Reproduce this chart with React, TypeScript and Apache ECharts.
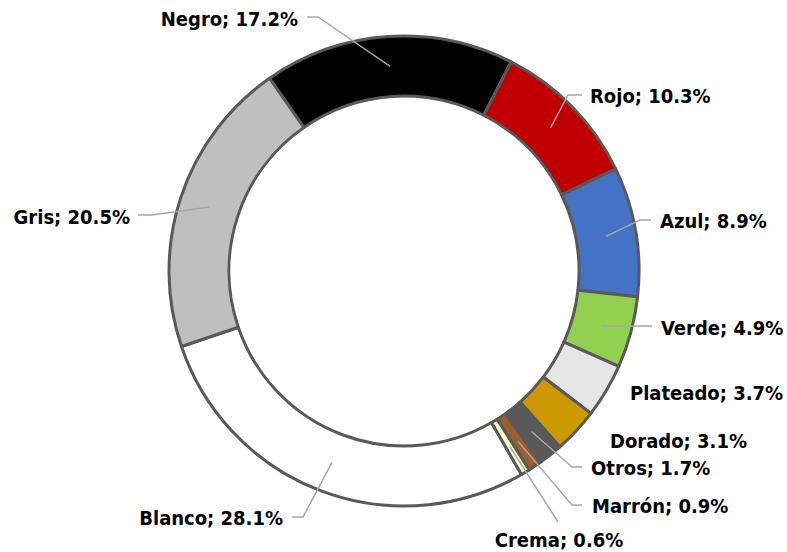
import React, { useEffect, useRef } from "react";
import * as echarts from "echarts";

// ---- data ----
const categories = ["Blanco", "Gris", "Negro", "Rojo", "Azul", "Verde", "Plateado", "Dorado", "Otros", "Marrón", "Crema"];
const values = [28.1, 20.5, 17.2, 10.3, 8.9, 4.9, 3.7, 3.1, 1.7, 0.9, 0.6];
const colors = ["#FFFFFF", "#BFBFBF", "#000000", "#C00000", "#4472C4", "#92D050", "#E7E6E6", "#CC9900", "#595959", "#9A5F2C", "#FFFFCC"];

// ---- layout (positions of labels, not data) ----
const CX = 404;
const CY = 271;
const R_IN = 175;
const R_OUT = 235;
const R_MID = 205;
const START_CW = 150; // degrees clockwise from 12 o'clock

type LabelPos = { x: number; y: number; align: "left" | "right" | "center"; line: number[][] | null };
const labelPos: LabelPos[] = [
  { x: 283, y: 518, align: "right", line: [[303, 517], [292, 517]] }, // Blanco
  { x: 130, y: 217, align: "right", line: [[152, 215], [138, 215]] }, // Gris
  { x: 298, y: 19, align: "right", line: [[318, 17], [307, 17]] }, // Negro
  { x: 590, y: 96, align: "left", line: [[568, 95], [582, 95]] }, // Rojo
  { x: 660, y: 221, align: "left", line: [[640, 220], [651, 220]] }, // Azul
  { x: 661, y: 328, align: "left", line: [[603, 326], [652, 326]] }, // Verde
  { x: 630, y: 393, align: "left", line: null }, // Plateado
  { x: 610, y: 441, align: "left", line: null }, // Dorado
  { x: 591, y: 468, align: "left", line: [[572, 467], [582, 467]] }, // Otros
  { x: 592, y: 506, align: "left", line: [[572, 505], [582, 505]] }, // Marrón
  { x: 559, y: 540, align: "center", line: [[558, 522], [558, 522]] }, // Crema
];

export default function App() {
  const ref = useRef<HTMLDivElement>(null);
  useEffect(() => {
    if (!ref.current) return;
    const chart = echarts.init(ref.current, undefined, { renderer: "svg" });
    const total = values.reduce((a, b) => a + b, 0);
    const mids: number[] = [];
    let cum = 0;
    values.forEach((v) => {
      mids.push(START_CW + ((cum + v / 2) / total) * 360);
      cum += v;
    });
    const sliceData = categories.map((name, i) => ({
      name,
      value: values[i],
      itemStyle: { color: colors[i] },
    }));
    const labelData = categories.map((name, i) => ({
      name,
      value: values[i],
      labelLine: { show: labelPos[i].line !== null },
    }));
    const common = {
      type: "pie",
      center: [CX, CY],
      radius: [R_IN, R_OUT],
      startAngle: 90 - START_CW,
      clockwise: true,
      avoidLabelOverlap: false,
      emphasis: { disabled: true },
      silent: true,
    };
    chart.setOption({
      animation: false,
      backgroundColor: "#ffffff",
      series: [
        {
          ...common,
          z: 2,
          data: sliceData,
          itemStyle: { borderColor: "#595959", borderWidth: 3 },
          label: { show: false },
          labelLine: { show: false },
        },
        {
          ...common,
          z: 5,
          data: labelData,
          itemStyle: { color: "rgba(255,255,255,0)", borderWidth: 0, opacity: 0 },
          label: {
            show: true,
            position: "outside",
            formatter: (p: any) => `${p.name}; ${Number(p.value).toFixed(1)}%`,
            fontFamily: "DejaVu Sans Condensed",
            fontWeight: "bold",
            fontSize: 20,
            color: "#000000",
            opacity: 1,
          },
          labelLine: {
            show: true,
            showAbove: true,
            lineStyle: { color: "#A6A6A6", width: 1.5, opacity: 1 },
          },
          labelLayout: (params: any) => {
            const i = params.dataIndex;
            const L = labelPos[i];
            const res: any = { x: L.x, y: L.y, align: L.align, verticalAlign: "middle" };
            if (L.line) {
              const a = (mids[i] * Math.PI) / 180;
              const s = [CX + R_MID * Math.sin(a), CY - R_MID * Math.cos(a)];
              res.labelLinePoints = [s, L.line[0], L.line[1]];
            }
            return res;
          },
        },
      ],
    });
    return () => chart.dispose();
  }, []);
  return (
    <div
      ref={ref}
      style={{ position: "fixed", left: 0, top: 0, width: 787, height: 552, background: "#fff" }}
    />
  );
}
